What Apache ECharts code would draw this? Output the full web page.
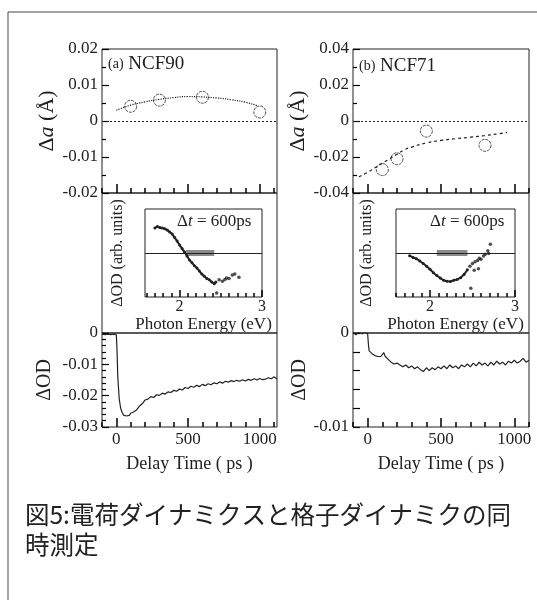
<!DOCTYPE html>
<html>
<head>
<meta charset="utf-8">
<script src="https://cdn.jsdelivr.net/npm/echarts@6/dist/echarts.min.js"></script>
<style>
html, body { margin: 0; padding: 0; background: #fff; }
#main { width: 537px; height: 600px; }
</style>
</head>
<body>
<div id="main"></div>
<script>
// (a) NCF90 格子定数変化
var latticeTimeA = [100, 300, 600, 1000];
var latticeA = [0.0041, 0.0058, 0.0066, 0.0025];
var fitTimeA = [0, 100, 200, 300, 400, 500, 600, 700, 800, 900, 980];
var fitA = [0.003, 0.0044, 0.0053, 0.006, 0.0065, 0.0068, 0.0067, 0.0064, 0.0059, 0.0052, 0.0043];

// (b) NCF71 格子定数変化
var latticeTimeB = [100, 200, 400, 800];
var latticeB = [-0.027, -0.021, -0.0056, -0.0135];
var fitTimeB = [-60, 0, 50, 100, 150, 200, 250, 300, 400, 500, 600, 700, 800, 900, 950];
var fitB = [-0.031, -0.0285, -0.026, -0.0235, -0.021, -0.0185, -0.016, -0.0145, -0.0122, -0.0108, -0.0098, -0.009, -0.0081, -0.007, -0.0064];

// ΔOD 時間変化
var delayA = [-100, -80, -60, -40, -20, 0, 5, 10, 20, 30, 40, 50, 60, 70, 80, 90, 100, 110, 120, 140, 160, 180, 200, 220, 240, 260, 280, 300, 320, 340, 360, 380, 400, 420, 440, 460, 480, 500, 520, 540, 560, 580, 600, 620, 640, 660, 680, 700, 720, 740, 760, 780, 800, 820, 840, 860, 880, 900, 920, 940, 960, 980, 1000, 1020, 1040, 1060, 1080, 1100, 1120];
var odA = [-0.0004, -0.0005, -0.0004, -0.0005, -0.0004, -0.0006, -0.006, -0.014, -0.021, -0.024, -0.0253, -0.0262, -0.0258, -0.0265, -0.0259, -0.0263, -0.0256, -0.0261, -0.0252, -0.0246, -0.0234, -0.0226, -0.0214, -0.0211, -0.0203, -0.0206, -0.0197, -0.0199, -0.0192, -0.0195, -0.0188, -0.019, -0.0183, -0.0186, -0.0179, -0.0182, -0.0174, -0.0177, -0.017, -0.0173, -0.0167, -0.0171, -0.0164, -0.0168, -0.0162, -0.0165, -0.0159, -0.0162, -0.0156, -0.016, -0.0154, -0.0157, -0.0152, -0.0155, -0.0151, -0.0154, -0.0149, -0.0153, -0.0148, -0.0151, -0.0146, -0.015, -0.0145, -0.0149, -0.0147, -0.0143, -0.0146, -0.014, -0.0147];
var delayB = [-100, -80, -60, -40, -20, 0, 5, 10, 20, 30, 40, 50, 60, 70, 80, 90, 100, 110, 120, 140, 160, 180, 200, 220, 240, 260, 280, 300, 320, 340, 360, 380, 400, 420, 440, 460, 480, 500, 520, 540, 560, 580, 600, 620, 640, 660, 680, 700, 720, 740, 760, 780, 800, 820, 840, 860, 880, 900, 920, 940, 960, 980, 1000, 1020, 1040, 1060, 1080, 1100];
var odB = [0.0001, -0.0002, 0.0002, -0.0001, 0.0001, -0.0001, -0.0012, -0.0019, -0.0021, -0.0022, -0.0023, -0.0024, -0.0023, -0.0025, -0.0024, -0.0025, -0.0023, -0.0021, -0.0025, -0.0028, -0.0031, -0.0033, -0.0032, -0.0034, -0.0036, -0.0034, -0.0037, -0.0035, -0.0038, -0.0036, -0.0039, -0.0041, -0.0037, -0.004, -0.0037, -0.0039, -0.0036, -0.0038, -0.0035, -0.0038, -0.0034, -0.0037, -0.0035, -0.0038, -0.0034, -0.0036, -0.0033, -0.0036, -0.0032, -0.0035, -0.0031, -0.0034, -0.0032, -0.0035, -0.0031, -0.0034, -0.003, -0.0033, -0.0031, -0.0034, -0.003, -0.0032, -0.0029, -0.0032, -0.003, -0.0027, -0.0031, -0.0029];

// 挿入図: Δt = 600ps のスペクトル
var energyA = [1.70, 1.73, 1.76, 1.79, 1.82, 1.85, 1.88, 1.91, 1.94, 1.97, 2.00, 2.03, 2.06, 2.09, 2.12, 2.15, 2.18, 2.21, 2.24, 2.27, 2.30, 2.33, 2.36, 2.39, 2.42, 2.44];
var specA = [0.57, 0.60, 0.58, 0.57, 0.55, 0.52, 0.48, 0.43, 0.35, 0.27, 0.18, 0.10, 0.02, -0.07, -0.16, -0.22, -0.29, -0.34, -0.41, -0.48, -0.53, -0.58, -0.61, -0.66, -0.70, -0.66];
var dotEnergyA = [2.45, 2.48, 2.52, 2.55, 2.57, 2.60, 2.64, 2.67, 2.72];
var dotA = [-0.91, -0.61, -0.64, -0.60, -0.57, -0.58, -0.50, -0.48, -0.55];
var energyB = [1.76, 1.80, 1.84, 1.88, 1.92, 1.96, 2.00, 2.04, 2.08, 2.12, 2.16, 2.20, 2.24, 2.28, 2.32, 2.36, 2.40, 2.44];
var specB = [-0.06, -0.10, -0.13, -0.18, -0.24, -0.30, -0.37, -0.45, -0.51, -0.57, -0.62, -0.64, -0.65, -0.62, -0.60, -0.56, -0.49, -0.38];
var dotEnergyB = [2.47, 2.50, 2.53, 2.56, 2.58, 2.60, 2.63, 2.65, 2.68, 2.69, 2.71, 2.48, 2.52, 2.57];
var dotB = [-0.30, -0.24, -0.20, -0.17, -0.12, -0.14, -0.07, -0.03, 0.05, -0.01, 0.20, -0.80, -0.39, -0.36];
var bandA = [2.08, 2.42];
var bandB = [2.08, 2.44];

var ink = '#222';
var tickInk = '#000';
var serif = '"Liberation Serif", "DejaVu Serif", serif';

function pairs(xs, ys) {
    return xs.map(function (x, i) { return [x, ys[i]]; });
}

function fmt(v) {
    if (Math.abs(v) < 1e-9) return '0';
    return v.toFixed(2);
}

// グリッド (ピクセル)
var grids = [
    { left: 102, top: 49, width: 175, height: 144 },   // 0 a 上
    { left: 102, top: 193, width: 175, height: 140 },  // 1 a 中
    { left: 102, top: 333, width: 175, height: 94 },   // 2 a 下
    { left: 145, top: 209, width: 117, height: 88 },   // 3 a 挿入
    { left: 353, top: 49, width: 176, height: 144 },   // 4 b 上
    { left: 353, top: 193, width: 176, height: 140 },  // 5 b 中
    { left: 353, top: 333, width: 176, height: 94 },   // 6 b 下
    { left: 396, top: 209, width: 119, height: 88 }    // 7 b 挿入
].map(function (g) {
    g.show = true;
    g.borderColor = ink;
    g.borderWidth = 1;
    return g;
});

var xAxes = [];
var yAxes = [];

// 時間軸: 主目盛 (0, 500, 1000) と副目盛 (100 毎)
function timeAxes(gridIndex, max, withLabel) {
    var major = {
        type: 'value', gridIndex: gridIndex, min: -100, max: max, position: 'bottom', z: 10,
        axisLine: { show: false, onZero: false }, splitLine: { show: false },
        axisTick: { show: true, inside: true, length: 9, customValues: [0, 500, 1000], lineStyle: { color: tickInk, width: 1.5 } },
        axisLabel: {
            show: withLabel, customValues: [0, 500, 1000], margin: 4,
            color: ink, fontFamily: serif, fontSize: 17,
            formatter: function (v) { return String(v); }
        }
    };
    if (withLabel) {
        major.name = 'Delay Time ( ps )';
        major.nameLocation = 'middle';
        major.nameGap = 28;
        major.nameTextStyle = { color: ink, fontFamily: serif, fontSize: 18 };
    }
    xAxes.push(major);
    var idx = xAxes.length - 1;
    xAxes.push({
        type: 'value', gridIndex: gridIndex, min: -100, max: max, position: 'bottom', z: 10,
        axisLine: { show: false, onZero: false }, splitLine: { show: false },
        axisTick: { show: true, inside: true, length: 5, customValues: [-100, 100, 200, 300, 400, 600, 700, 800, 900, 1100], lineStyle: { color: tickInk, width: 1.5 } },
        axisLabel: { show: false }
    });
    return idx;
}

// 挿入図のエネルギー軸
function energyAxes(gridIndex, min) {
    xAxes.push({
        type: 'value', gridIndex: gridIndex, min: min, max: 3.0, position: 'bottom', z: 10,
        axisLine: { show: false, onZero: false }, splitLine: { show: false },
        axisTick: { show: true, inside: true, length: 7, customValues: [2, 3], lineStyle: { color: tickInk, width: 1.5 } },
        axisLabel: {
            show: true, customValues: [2, 3], margin: 2, color: ink, fontFamily: serif, fontSize: 16,
            formatter: function (v) { return String(v); }
        },
        name: 'Photon Energy (eV)', nameLocation: 'middle', nameGap: 14,
        nameTextStyle: { color: ink, fontFamily: serif, fontSize: 17 }
    });
    var idx = xAxes.length - 1;
    xAxes.push({
        type: 'value', gridIndex: gridIndex, min: min, max: 3.0, position: 'bottom', z: 10,
        axisLine: { show: false, onZero: false }, splitLine: { show: false },
        axisTick: { show: true, inside: true, length: 4, customValues: [1.6, 1.7, 1.8, 1.9, 2.1, 2.2, 2.3, 2.4, 2.5, 2.6, 2.7, 2.8, 2.9], lineStyle: { color: tickInk, width: 1.5 } },
        axisLabel: { show: false }
    });
    return idx;
}

function hiddenX(gridIndex) {
    xAxes.push({ type: 'value', gridIndex: gridIndex, show: false, min: 0, max: 1 });
    return xAxes.length - 1;
}
function hiddenY(gridIndex) {
    yAxes.push({ type: 'value', gridIndex: gridIndex, show: false, min: 0, max: 1 });
    return yAxes.length - 1;
}

function valueY(gridIndex, min, max, interval, minorSplit, name, nameGap, nameSize, labelFmt) {
    yAxes.push({
        type: 'value', gridIndex: gridIndex, min: min, max: max, interval: interval,
        axisLine: { show: false, onZero: false }, splitLine: { show: false },
        axisTick: { inside: true, length: 7, lineStyle: { color: tickInk, width: 1.2 } },
        minorTick: { show: minorSplit > 1, splitNumber: minorSplit, length: 4, lineStyle: { color: tickInk, width: 1.2 } },
        minorSplitLine: { show: false },
        axisLabel: { margin: 4, color: ink, fontFamily: serif, fontSize: 17, formatter: labelFmt || fmt },
        name: name, nameLocation: 'middle', nameGap: nameGap,
        nameTextStyle: {
            color: ink, fontFamily: serif, fontSize: nameSize,
            rich: {
                d: { color: ink, fontFamily: serif, fontSize: nameSize },
                i: { color: ink, fontFamily: serif, fontSize: nameSize, fontStyle: 'italic' }
            }
        }
    });
    return yAxes.length - 1;
}

function insetY(gridIndex, nameGap) {
    yAxes.push({
        type: 'value', gridIndex: gridIndex, min: -1, max: 1,
        axisLine: { show: false, onZero: false }, splitLine: { show: false },
        axisTick: { show: false }, axisLabel: { show: false },
        name: 'ΔOD (arb. units)', nameLocation: 'middle', nameGap: nameGap,
        nameTextStyle: { color: ink, fontFamily: serif, fontSize: 16 }
    });
    return yAxes.length - 1;
}

// パネル a
var xaTop = timeAxes(0, 1120, false);
var xaMid = hiddenX(1);
var xaBot = timeAxes(2, 1120, true);
var xaIn = energyAxes(3, 1.58);
var yaTop = valueY(0, -0.02, 0.02, 0.01, 2, '{d|Δ}{i|a} (Å)', 43, 22);
var yaMid = hiddenY(1);
var yaBot = valueY(2, -0.03, 0, 0.01, 5, 'ΔOD', 47, 20);
var yaIn = insetY(3, 19);

// パネル b
var xbTop = timeAxes(4, 1100, false);
var xbMid = hiddenX(5);
var xbBot = timeAxes(6, 1100, true);
var xbIn = energyAxes(7, 1.6);
var ybTop = valueY(4, -0.04, 0.04, 0.02, 2, '{d|Δ}{i|a} (Å)', 43, 22);
var ybMid = hiddenY(5);
var ybBot = valueY(6, -0.01, 0, 0.002, 1, 'ΔOD', 43, 20, function (v) {
    if (Math.abs(v) < 1e-9) return '0';
    if (Math.abs(v + 0.01) < 1e-9) return '-0.01';
    return '';
});
var ybIn = insetY(7, 21);

var zeroDotted = {
    silent: true, symbol: 'none', label: { show: false },
    lineStyle: { color: ink, type: [2, 2], width: 1 },
    data: [{ yAxis: 0 }]
};
var zeroSolid = {
    silent: true, symbol: 'none', label: { show: false },
    lineStyle: { color: ink, type: 'solid', width: 1 },
    data: [{ yAxis: 0 }]
};

function panelSeries(xTop, yTop, xBot, yBot, xIn, yIn, fitT, fitV, fitType, latT, latV, delay, od, energy, spec, dotE, dotV, band) {
    return [
        {
            type: 'line', xAxisIndex: xTop, yAxisIndex: yTop, data: pairs(fitT, fitV),
            smooth: true, showSymbol: false, lineStyle: { color: ink, width: 1.2, type: fitType },
            markLine: zeroDotted
        },
        {
            type: 'scatter', xAxisIndex: xTop, yAxisIndex: yTop, data: pairs(latT, latV),
            symbol: 'circle', symbolSize: 12,
            itemStyle: { color: '#fff', borderColor: ink, borderWidth: 1, borderType: [3, 1] }
        },
        {
            type: 'line', xAxisIndex: xBot, yAxisIndex: yBot, data: pairs(delay, od),
            showSymbol: false, lineStyle: { color: ink, width: 1.2 }
        },
        {
            type: 'line', xAxisIndex: xIn, yAxisIndex: yIn, data: pairs(band, [0, 0]),
            showSymbol: false, lineStyle: { color: '#8a8a8a', width: 6 }, z: 3,
            markLine: zeroSolid
        },
        {
            type: 'line', xAxisIndex: xIn, yAxisIndex: yIn, data: pairs(energy, spec),
            symbol: 'circle', symbolSize: 3, showSymbol: true,
            itemStyle: { color: ink }, lineStyle: { color: ink, width: 2 }, z: 4
        },
        {
            type: 'scatter', xAxisIndex: xIn, yAxisIndex: yIn, data: pairs(dotE, dotV),
            symbol: 'circle', symbolSize: 3.5, itemStyle: { color: ink }, z: 4
        }
    ];
}

var series = []
    .concat(panelSeries(xaTop, yaTop, xaBot, yaBot, xaIn, yaIn, fitTimeA, fitA, 'dotted', latticeTimeA, latticeA,
        delayA, odA, energyA, specA, dotEnergyA, dotA, bandA))
    .concat(panelSeries(xbTop, ybTop, xbBot, ybBot, xbIn, ybIn, fitTimeB, fitB, [3, 3], latticeTimeB, latticeB,
        delayB, odB, energyB, specB, dotEnergyB, dotB, bandB));
// 中段のグリッドを維持するための空系列
series.push({ type: 'line', xAxisIndex: xaMid, yAxisIndex: yaMid, data: [] });
series.push({ type: 'line', xAxisIndex: xbMid, yAxisIndex: ybMid, data: [] });

var myChart = echarts.init(document.getElementById('main'), null, { renderer: 'canvas' });

var option = {
    animation: false,
    backgroundColor: '#fff',
    grid: grids,
    xAxis: xAxes,
    yAxis: yAxes,
    series: series,
    graphic: [
        {
            type: 'polyline', silent: true,
            shape: { points: [[8, 600], [8, 12], [537, 12]] },
            style: { stroke: '#444', lineWidth: 1, fill: null }
        },
        {
            type: 'text', left: 108, top: 55,
            style: {
                text: '{s|(a)} NCF90', fill: ink, font: '19px ' + serif,
                rich: { s: { fontSize: 14, fontFamily: serif, fill: ink } }
            }
        },
        {
            type: 'text', left: 359, top: 57,
            style: {
                text: '{s|(b)} NCF71', fill: ink, font: '19px ' + serif,
                rich: { s: { fontSize: 14, fontFamily: serif, fill: ink } }
            }
        },
        {
            type: 'text', left: 177, top: 213,
            style: {
                text: 'Δ{i|t} = 600ps', fill: ink, font: '17px ' + serif,
                rich: { i: { fontStyle: 'italic', fontSize: 17, fontFamily: serif, fill: ink } }
            }
        },
        {
            type: 'text', left: 430, top: 213,
            style: {
                text: 'Δ{i|t} = 600ps', fill: ink, font: '17px ' + serif,
                rich: { i: { fontStyle: 'italic', fontSize: 17, fontFamily: serif, fill: ink } }
            }
        },
        {
            type: 'text', left: 25, top: 500,
            style: {
                text: '図5:電荷ダイナミクスと格子ダイナミクの同\n時測定',
                fill: '#222', font: '24.5px "Noto Sans CJK JP"', lineHeight: 30
            }
        }
    ]
};

myChart.setOption(option);
</script>
</body>
</html>
